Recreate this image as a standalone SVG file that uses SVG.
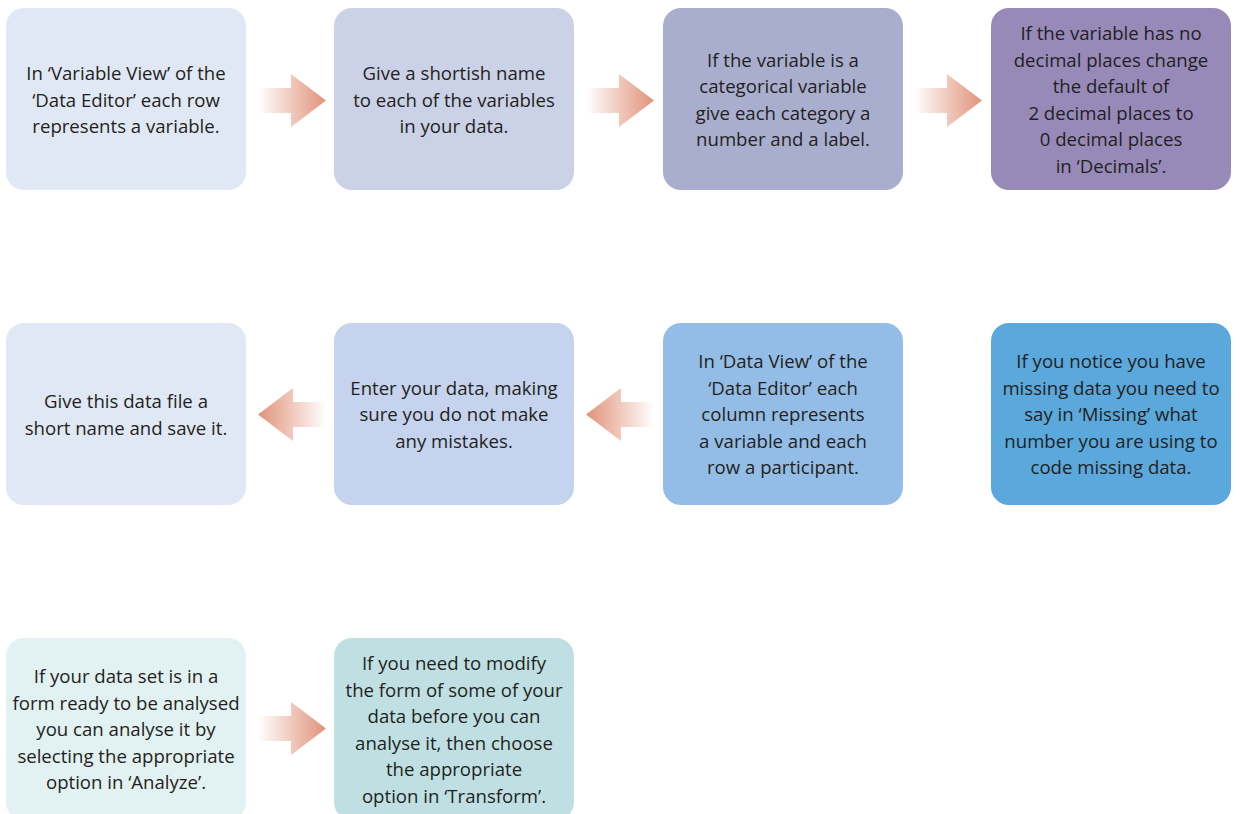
<svg xmlns="http://www.w3.org/2000/svg" width="1240" height="814" viewBox="0 0 1240 814">
<defs>
<linearGradient id="gR" x1="0" y1="0" x2="1" y2="0">
<stop offset="0" stop-color="#fff" stop-opacity="1"/>
<stop offset="1" stop-color="#e1927a"/>
</linearGradient>
<linearGradient id="gL" x1="1" y1="0" x2="0" y2="0">
<stop offset="0" stop-color="#fff" stop-opacity="1"/>
<stop offset="1" stop-color="#e1927a"/>
</linearGradient>
<style>
text{font-family:"Open Sans","Liberation Sans",sans-serif;font-size:18.6px;fill:#231f20;text-anchor:middle}
</style>
</defs>
<rect width="1240" height="814" fill="#fff"/>
<g id="connectors">
<path d="M258 88H291V74L326 100.5L291 127V113H258Z" fill="url(#gR)"/>
<path d="M586 88H619V74L654 100.5L619 127V113H586Z" fill="url(#gR)"/>
<path d="M914 88H947V74L982 100.5L947 127V113H914Z" fill="url(#gR)"/>
<path d="M326 402H293V388L258 414.5L293 441V427H326Z" fill="url(#gL)"/>
<path d="M654 402H621V388L586 414.5L621 441V427H654Z" fill="url(#gL)"/>
<path d="M258 716H291V702L326 728.5L291 755V741H258Z" fill="url(#gR)"/>
</g>
<g id="n1"><rect x="6" y="8" width="240" height="182" rx="18" fill="#e1e8f5"/>
<text x="126" y="80">In ‘Variable View’ of the</text><text x="126" y="106.5">‘Data Editor’ each row</text><text x="126" y="133">represents a variable.</text></g>
<g id="n2"><rect x="334" y="8" width="240" height="182" rx="18" fill="#cbd1e6"/>
<text x="454" y="80">Give a shortish name</text><text x="454" y="106.5">to each of the variables</text><text x="454" y="133">in your data.</text></g>
<g id="n3"><rect x="663" y="8" width="240" height="182" rx="18" fill="#a9aecf"/>
<text x="783" y="66.5">If the variable is a</text><text x="783" y="93">categorical variable</text><text x="783" y="119.5">give each category a</text><text x="783" y="146">number and a label.</text></g>
<g id="n4"><rect x="991" y="8" width="240" height="182" rx="18" fill="#978ab9"/>
<text x="1111" y="40">If the variable has no</text><text x="1111" y="66.5">decimal places change</text><text x="1111" y="93">the default of</text><text x="1111" y="119.5">2 decimal places to</text><text x="1111" y="146">0 decimal places</text><text x="1111" y="172.5">in ‘Decimals’.</text></g>
<g id="n5"><rect x="6" y="323" width="240" height="182" rx="18" fill="#e1e8f5"/>
<text x="126" y="408">Give this data file a</text><text x="126" y="434.5">short name and save it.</text></g>
<g id="n6"><rect x="334" y="323" width="240" height="182" rx="18" fill="#c5d3ee"/>
<text x="454" y="394.5">Enter your data, making</text><text x="454" y="421">sure you do not make</text><text x="454" y="447.5">any mistakes.</text></g>
<g id="n7"><rect x="663" y="323" width="240" height="182" rx="18" fill="#93bde6"/>
<text x="783" y="368">In ‘Data View’ of the</text><text x="783" y="394.5">‘Data Editor’ each</text><text x="783" y="421">column represents</text><text x="783" y="447.5">a variable and each</text><text x="783" y="474">row a participant.</text></g>
<g id="n8"><rect x="991" y="323" width="240" height="182" rx="18" fill="#5aa8dc"/>
<text x="1111" y="368">If you notice you have</text><text x="1111" y="394.5">missing data you need to</text><text x="1111" y="421">say in ‘Missing’ what</text><text x="1111" y="447.5">number you are using to</text><text x="1111" y="474">code missing data.</text></g>
<g id="n9"><rect x="6" y="638" width="240" height="182" rx="18" fill="#e2f1f1"/>
<text x="126" y="683">If your data set is in a</text><text x="126" y="709.5">form ready to be analysed</text><text x="126" y="736">you can analyse it by</text><text x="126" y="762.5">selecting the appropriate</text><text x="126" y="789">option in ‘Analyze’.</text></g>
<g id="n10"><rect x="334" y="638" width="240" height="182" rx="18" fill="#bfdfe3"/>
<text x="454" y="670">If you need to modify</text><text x="454" y="696.5">the form of some of your</text><text x="454" y="723">data before you can</text><text x="454" y="749.5">analyse it, then choose</text><text x="454" y="776">the appropriate</text><text x="454" y="802.5">option in ‘Transform’.</text></g>
</svg>
